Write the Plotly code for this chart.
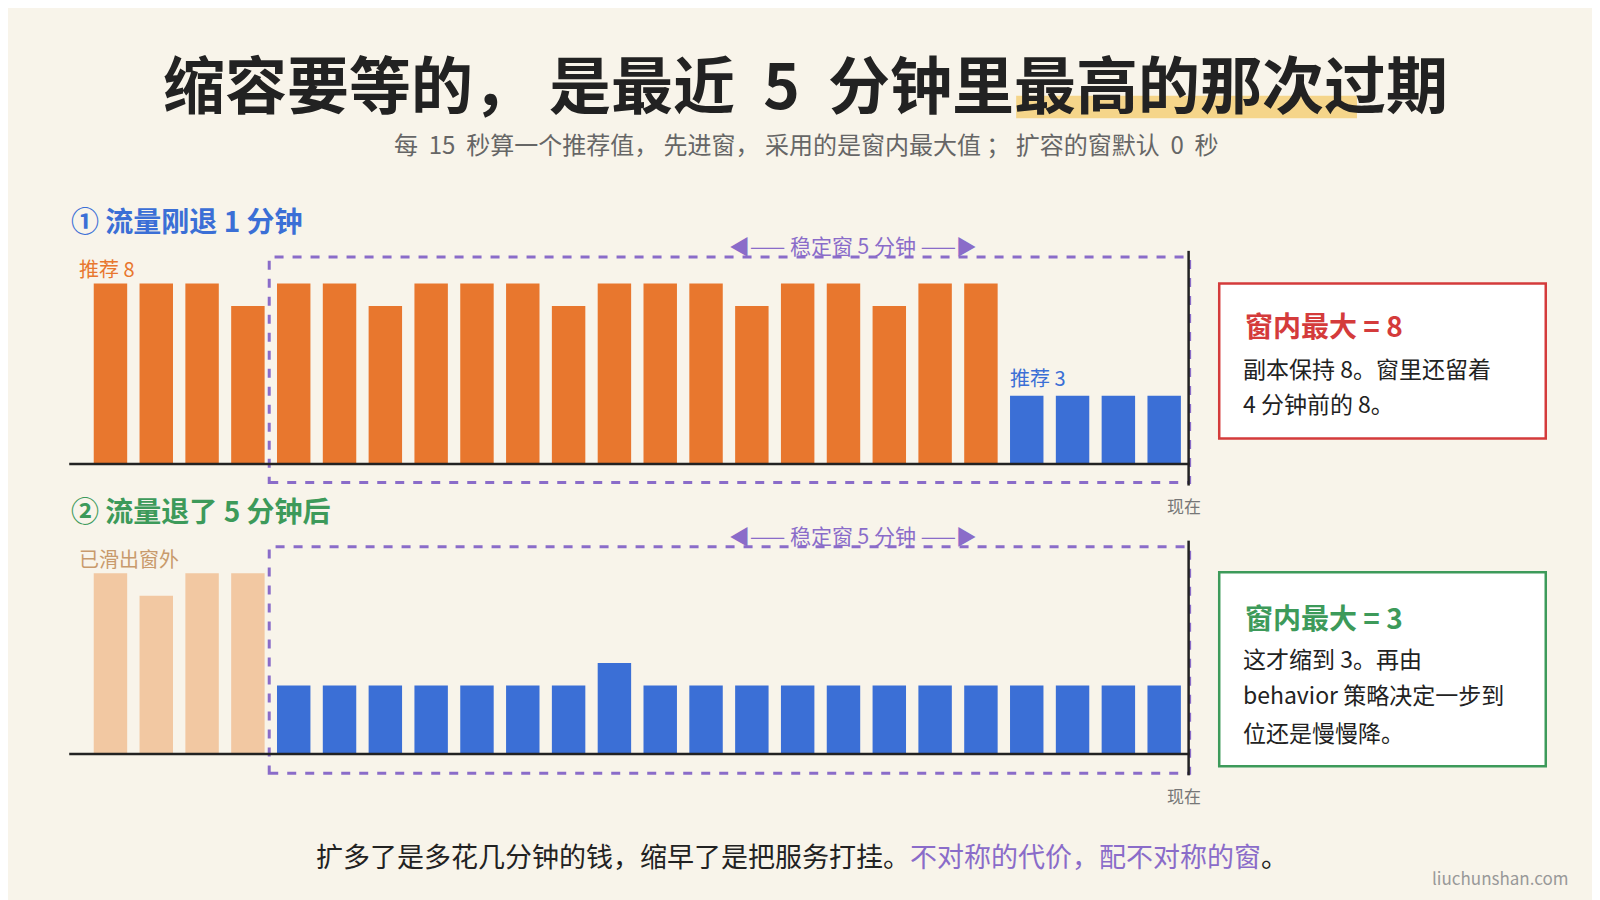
import plotly.graph_objects as go

W, H = 1600, 900
top_cats = list(range(1, 25))
top_orange = [8,8,8,7,8,8,7,8,8,8,7,8,8,8,7,8,8,7,8,8]
top_blue = [3,3,3,3]
bot_peach = [8,7,8,8]
bot_blue = [3,3,3,3,3,3,3,4,3,3,3,3,3,3,3,3,3,3,3,3]

ORANGE, BLUE, PEACH = "#e8772e", "#3b6fd6", "#f2c8a2"
PURPLE, RED, GREEN = "#8a6cc9", "#d43b3b", "#3d9a5a"
BG = "#f8f4ea"
FONT = "Noto Sans CJK SC"

RW, RH = 1568, 882  # reference measurement scale
def px(x): return x / RW
def py(y): return 1 - y / RH

fig = go.Figure()
fig.add_bar(x=top_cats[:20], y=top_orange, marker_color=ORANGE, width=0.73, xaxis="x", yaxis="y")
fig.add_bar(x=top_cats[20:], y=top_blue, marker_color=BLUE, width=0.73, xaxis="x", yaxis="y")
fig.add_bar(x=top_cats[:4], y=bot_peach, marker_color=PEACH, width=0.73, xaxis="x2", yaxis="y2")
fig.add_bar(x=top_cats[4:], y=bot_blue, marker_color=BLUE, width=0.73, xaxis="x2", yaxis="y2")
for t in fig.data:
    t.marker.line.width = 0

ax = dict(range=[0.1, 24.6], visible=False, fixedrange=True)
fig.update_layout(
    width=W, height=H, paper_bgcolor=BG, plot_bgcolor="rgba(0,0,0,0)",
    margin=dict(l=0, r=0, t=0, b=0), showlegend=False, barmode="overlay",
    font=dict(family=FONT),
    xaxis=dict(domain=[px(60), px(1160)], anchor="y", **ax),
    xaxis2=dict(domain=[px(60), px(1160)], anchor="y2", **ax),
    yaxis=dict(domain=[py(446), py(248)], range=[0, 9], visible=False, anchor="x"),
    yaxis2=dict(domain=[py(730), py(532)], range=[0, 9], visible=False, anchor="x2"),
)

shapes = []
def rect(x0, y0, x1, y1, **kw):
    shapes.append(dict(type="rect", xref="paper", yref="paper", x0=px(x0), x1=px(x1), y0=py(y1), y1=py(y0), **kw))
def line(x0, y0, x1, y1, **kw):
    shapes.append(dict(type="line", xref="paper", yref="paper", x0=px(x0), x1=px(x1), y0=py(y0), y1=py(y1), **kw))

rect(988, 86, 1322, 108, fillcolor="#f5d58a", line_width=0, layer="below")
rect(256, 244, 1158, 465, line=dict(color=PURPLE, width=3, dash="dash"))
rect(256, 528, 1158, 750, line=dict(color=PURPLE, width=3, dash="dash"))
line(60, 447, 1158, 447, line=dict(color="#222", width=2.5))
line(60, 731, 1158, 731, line=dict(color="#222", width=2.5))
line(1157, 238, 1157, 468, line=dict(color="#222", width=2.5))
line(1157, 522, 1157, 752, line=dict(color="#222", width=2.5))
rect(1187, 270, 1507, 422, line=dict(color=RED, width=2.5), fillcolor="white")
rect(1187, 553, 1507, 743, line=dict(color=GREEN, width=2.5), fillcolor="white")
fig.update_layout(shapes=shapes)

def txt(x, y, s, size, color="#222", anchor="center", bold=False):
    fig.add_annotation(xref="paper", yref="paper", x=px(x), y=py(y), text=("<b>%s</b>" % s) if bold else s,
                       showarrow=False, xanchor=anchor, yanchor="middle",
                       font=dict(size=size, color=color, family=FONT))

txt(782, 73, "缩容要等的， 是最近  5  分钟里最高的那次过期", 62, "#222", bold=True)
txt(782, 133, "每  15  秒算一个推荐值， 先进窗， 采用的是窗内最大值 ； 扩容的窗默认  0  秒", 24, "#666")
txt(60, 208, "① 流量刚退 1 分钟", 28, BLUE, "left", True)
txt(60, 492, "② 流量退了 5 分钟后", 28, GREEN, "left", True)
txt(828, 232, "◀—— 稳定窗 5 分钟 ——▶", 21, PURPLE)
txt(828, 516, "◀—— 稳定窗 5 分钟 ——▶", 21, PURPLE)
txt(68, 255, "推荐 8", 20, ORANGE, "left")
txt(980, 362, "推荐 3", 20, BLUE, "left")
txt(68, 539, "已滑出窗外", 20, "#c89a6c", "left")
txt(1152, 488, "现在", 17, "#777")
txt(1152, 772, "现在", 17, "#777")
txt(1210, 311, "窗内最大 = 8", 28, RED, "left", True)
txt(1208, 353, "副本保持 8。窗里还留着", 23, "#222", "left")
txt(1208, 387, "4 分钟前的 8。", 23, "#222", "left")
txt(1210, 597, "窗内最大 = 3", 28, GREEN, "left", True)
txt(1208, 637, "这才缩到 3。再由", 23, "#222", "left")
txt(1208, 672, "behavior 策略决定一步到", 23, "#222", "left")
txt(1208, 710, "位还是慢慢降。", 23, "#222", "left")
txt(778, 831, "扩多了是多花几分钟的钱，缩早了是把服务打挂。<span style='color:%s'>不对称的代价，配不对称的窗</span>。" % PURPLE, 27)
txt(1463, 852, "liuchunshan.com", 17, "#999")

fig.write_html("out.html")
